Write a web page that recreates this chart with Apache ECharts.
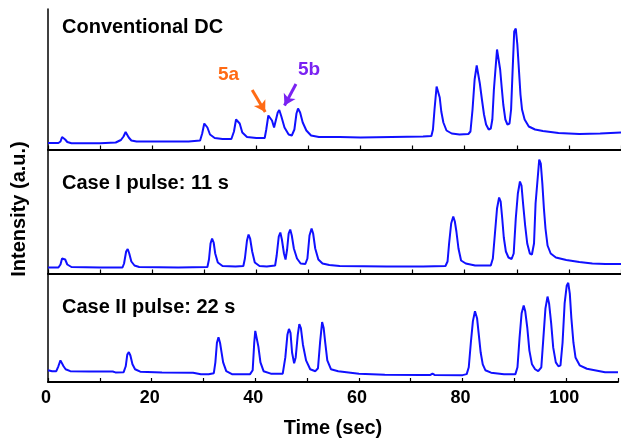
<!DOCTYPE html>
<html>
<head>
<meta charset="utf-8">
<script src="https://cdn.jsdelivr.net/npm/echarts@6/dist/echarts.min.js"></script>
<style>
  html, body { margin: 0; padding: 0; background: #fff; }
  #chart { width: 621px; height: 439px; }
</style>
</head>
<body>
<div id="chart"></div>
<script>
// Electropherogram traces: [time (sec), intensity (a.u.)]
const dcTrace = [
  [0, 6.5], [2.0, 6.5], [2.4, 8], [2.7, 12.5], [3.0, 13], [3.3, 10], [3.7, 7.5], [4.5, 6.3],
  [10, 6.2], [13.0, 7], [14.0, 9.5], [14.5, 13], [14.9, 17.5], [15.2, 17], [15.5, 12], [16.0, 9],
  [17, 8], [22, 8], [27, 8], [29.2, 9], [29.6, 16], [30.0, 26], [30.3, 27], [30.6, 22], [31.1, 15],
  [32, 11.5], [33.5, 10.5], [35.2, 10.5], [35.7, 18], [36.1, 30], [36.4, 31.5], [36.8, 26],
  [37.3, 17], [38.2, 12.5], [40, 11.5], [41.6, 11.5], [41.9, 20], [42.3, 34], [42.6, 36],
  [43.0, 29], [43.4, 22], [43.7, 24], [44.1, 37], [44.4, 39.5], [44.8, 33], [45.4, 22],
  [46.2, 15], [46.8, 14], [47.3, 20], [47.7, 36], [48.0, 41], [48.4, 37], [48.9, 27],
  [49.6, 19], [50.5, 14], [52, 12.5], [56, 12.5], [60, 12], [66, 12.5], [72, 13], [73.6, 13.5],
  [73.9, 20], [74.2, 40], [74.6, 63], [74.9, 63], [75.2, 52], [75.5, 38], [75.9, 27], [76.5, 19],
  [77.5, 16], [79, 15], [80.7, 15.5], [81.1, 18], [81.5, 40], [81.9, 70], [82.3, 84], [82.6, 83],
  [82.9, 66], [83.3, 50], [83.7, 35], [84.1, 25], [84.6, 20], [85.0, 21], [85.3, 30], [85.6, 60],
  [85.9, 80], [86.2, 100], [86.5, 99], [86.8, 80], [87.1, 62], [87.4, 45], [87.8, 30], [88.2, 25],
  [88.6, 26], [88.9, 40], [89.2, 80], [89.5, 118], [89.8, 121], [90.1, 105], [90.4, 80],
  [90.7, 55], [91.0, 40], [91.5, 30], [92.3, 23], [93.5, 20], [95, 18.5], [98, 16.5],
  [102, 15.5], [106, 16], [110, 17]
];

const case1Trace = [
  [0, 6], [2.0, 6], [2.4, 9], [2.7, 15], [3.0, 17], [3.3, 14], [3.7, 9], [4.5, 6.5], [10, 6],
  [14.3, 6], [14.6, 10], [15.0, 22], [15.3, 24.5], [15.6, 20], [16.0, 12], [16.6, 8], [17.5, 6.5],
  [25, 6], [30.6, 6.5], [30.9, 14], [31.2, 30], [31.5, 35], [31.8, 31], [32.1, 20], [32.6, 11],
  [33.5, 7.5], [36, 7], [37.5, 7.5], [37.8, 15], [38.2, 33], [38.5, 39], [38.8, 35], [39.2, 22],
  [39.7, 11], [40.6, 7.5], [42, 7], [43.6, 8], [43.9, 18], [44.3, 37], [44.6, 41], [44.9, 34],
  [45.3, 20], [45.6, 14], [45.9, 24], [46.2, 40], [46.5, 44], [46.8, 38], [47.2, 25], [47.8, 15],
  [48.5, 10], [49.4, 9.5], [49.8, 15], [50.2, 38], [50.6, 45], [50.9, 40], [51.3, 25], [51.9, 14],
  [52.7, 10], [54, 8.5], [56, 7.5], [65, 7], [72, 7], [76.3, 7.5], [76.7, 12], [77.0, 30],
  [77.4, 50], [77.8, 57], [78.1, 52], [78.4, 42], [78.8, 25], [79.3, 13], [80.2, 10], [82, 8],
  [85.0, 8], [85.4, 15], [85.8, 40], [86.2, 65], [86.6, 76], [86.9, 72], [87.2, 55], [87.5, 36],
  [87.9, 22], [88.4, 16], [89.0, 14.5], [89.4, 20], [89.8, 55], [90.2, 80], [90.6, 92], [90.9, 88],
  [91.2, 70], [91.6, 48], [92.0, 30], [92.5, 20], [92.9, 19], [93.3, 30], [93.6, 70], [94.0, 95],
  [94.3, 114], [94.6, 110], [94.9, 90], [95.2, 65], [95.5, 45], [95.9, 28], [96.5, 20], [97.5, 16],
  [99.5, 13.5], [102, 11.5], [104.5, 10], [107, 9.5], [110, 9.5]
];

const case2Trace = [
  [0, 12], [0.8, 11], [1.6, 11], [2.0, 16], [2.4, 22], [2.7, 21], [3.0, 16], [3.4, 13], [4.3, 11],
  [8, 10.7], [12.5, 10.7], [13, 9.8], [14.6, 10], [15.0, 16], [15.3, 28], [15.6, 30.5], [15.9, 27],
  [16.3, 18], [16.8, 13], [17.8, 10.5], [22, 9.8], [28, 9.5], [29.5, 8], [31, 8], [32.0, 9],
  [32.3, 20], [32.6, 40], [32.9, 45.5], [33.2, 40], [33.5, 30], [33.8, 20], [34.4, 11], [35.5, 8],
  [39, 8], [39.5, 12], [39.8, 40], [40.0, 52], [40.3, 50], [40.6, 36], [41.0, 20], [41.6, 11],
  [43, 8.5], [45.3, 8.5], [45.8, 25], [46.2, 48], [46.5, 54], [46.8, 50], [47.1, 30], [47.5, 19],
  [47.8, 25], [48.2, 48], [48.5, 59], [48.8, 55], [49.2, 38], [49.8, 22], [50.6, 13], [51.6, 11],
  [52.1, 14], [52.5, 40], [52.9, 61], [53.2, 55], [53.5, 40], [53.9, 22], [54.6, 13], [56, 11],
  [60, 8.5], [65, 7.5], [72, 7.2], [73.8, 7.2], [74.2, 8.5], [74.6, 7.2], [80, 7], [80.8, 8],
  [81.2, 15], [81.6, 40], [82.0, 62], [82.4, 72], [82.8, 65], [83.1, 50], [83.5, 30], [83.9, 18],
  [84.4, 12], [85.5, 9.5], [88, 8], [90.2, 8], [90.6, 15], [91.0, 45], [91.4, 70], [91.8, 78],
  [92.1, 72], [92.5, 55], [92.9, 32], [93.4, 18], [94.0, 13], [94.6, 11], [95.2, 15], [95.6, 45],
  [96.0, 75], [96.4, 87], [96.7, 80], [97.1, 60], [97.5, 35], [98.0, 20], [98.5, 16], [98.9, 17],
  [99.3, 40], [99.7, 80], [100.1, 98], [100.4, 101], [100.7, 90], [101.0, 65], [101.4, 40],
  [101.8, 25], [102.6, 17], [104, 13.5], [105.5, 12], [107.5, 10], [110, 10]
];

const panelTitles = ['Conventional DC', 'Case I pulse: 11 s', 'Case II pulse: 22 s'];
const traces = [dcTrace, case1Trace, case2Trace];

// Peak callouts on the DC trace: label position and arrow [from, to] in data units
const peakCallouts = [
  { text: '5a', color: '#ff6a14', labelAt: [34.65, 74.5], arrow: [[39.2, 59.5], [41.7, 37.5]] },
  { text: '5b', color: '#7a22f2', labelAt: [50.1, 79.8], arrow: [[47.6, 65.5], [45.4, 44]] }
];

const FONT = '"Liberation Sans", Arial, Helvetica, sans-serif';
const TRACE_COLOR = '#1010ff';

// Panel geometry (px) — stacked, sharing the time axis
const panels = [
  { top: 9, height: 140.5 },
  { top: 149.5, height: 124 },
  { top: 273.5, height: 110.5 }
];
const timeMax = 110;

const grids = panels.map(p => ({ left: 48, right: 0, top: p.top, height: p.height }));

const xAxes = panels.map((p, i) => {
  const last = i === panels.length - 1;
  return {
    type: 'value', gridIndex: i, min: 0, max: timeMax, interval: 10,
    axisLine: { show: true, onZero: false, lineStyle: { color: '#000', width: 2 } },
    axisTick: { show: true, inside: true, length: 4, lineStyle: { color: '#000', width: 1.2 } },
    axisLabel: {
      show: last, margin: 7, color: '#000', fontFamily: FONT, fontWeight: 'bold', fontSize: 18,
      padding: [0, 4, 0, 0],
      formatter: v => (v % 20 === 0 ? String(v) : '')
    },
    splitLine: { show: false },
    name: last ? 'Time (sec)' : '',
    nameLocation: 'middle', nameGap: 36,
    nameTextStyle: { color: '#000', fontFamily: FONT, fontWeight: 'bold', fontSize: 20 }
  };
});

const yAxes = panels.map((p, i) => ({
  type: 'value', gridIndex: i, min: 0, max: p.height,
  axisLine: { show: true, lineStyle: { color: '#000', width: 1.5 } },
  axisTick: { show: false }, axisLabel: { show: false }, splitLine: { show: false }
}));

const series = traces.map((d, i) => {
  const s = {
    type: 'line', xAxisIndex: i, yAxisIndex: i, data: d,
    showSymbol: false, symbol: 'none', smooth: false,
    lineStyle: { color: TRACE_COLOR, width: 2 }, silent: true
  };
  if (i === 0) {
    s.markLine = {
      silent: true, symbol: ['none', 'arrow'], symbolSize: [10, 11],
      label: { show: false },
      data: peakCallouts.map(c => [
        { coord: c.arrow[0], lineStyle: { color: c.color, width: 3, type: 'solid' }, itemStyle: { color: c.color } },
        { coord: c.arrow[1] }
      ])
    };
    s.markPoint = {
      silent: true, symbol: 'circle', symbolSize: 0,
      data: peakCallouts.map(c => ({
        coord: c.labelAt, itemStyle: { color: 'transparent' },
        label: {
          show: true, position: 'inside', formatter: c.text, color: c.color,
          fontFamily: FONT, fontWeight: 'bold', fontSize: 19
        }
      }))
    };
  }
  return s;
});

const titleYs = [28.5, 184, 308.5];
const graphics = panelTitles.map((t, i) => ({
  type: 'text', left: 62, top: titleYs[i] - 11,
  style: { text: t, fill: '#000', font: 'bold 20px ' + FONT }
}));
graphics.push({
  type: 'text', x: 19.5, y: 209, rotation: Math.PI / 2,
  style: {
    text: 'Intensity (a.u.)', fill: '#000', font: 'bold 20px ' + FONT,
    align: 'center', verticalAlign: 'middle'
  }
});

const chart = echarts.init(document.getElementById('chart'), null, { renderer: 'canvas' });
chart.setOption({
  animation: false,
  backgroundColor: '#fff',
  grid: grids,
  xAxis: xAxes,
  yAxis: yAxes,
  series: series,
  graphic: graphics
});
</script>
</body>
</html>
